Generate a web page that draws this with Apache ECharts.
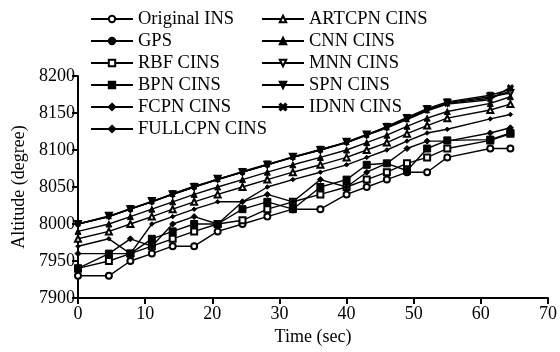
<!DOCTYPE html>
<html>
<head>
<meta charset="utf-8">
<script src="https://cdn.jsdelivr.net/npm/echarts@6/dist/echarts.min.js"></script>
<style>html,body{margin:0;padding:0;background:#fff}#c{width:560px;height:352px}</style>
</head>
<body>
<div id="c"></div>
<script>
var times = [0, 4.6, 7.8, 11, 14.1, 17.3, 20.8, 24.5, 28.2, 32, 36.1, 40, 43, 46, 49, 52, 55, 61.4, 64.4];

var originalINS = [7930, 7930, 7950, 7960, 7970, 7970, 7990, 8000, 8010, 8020, 8020, 8040, 8050, 8060, 8070, 8070, 8090, 8102, 8102];
var gps      = [8000, 8010, 8020, 8030, 8040, 8050, 8060, 8070, 8080, 8090, 8100, 8110, 8120, 8130, 8142, 8154, 8163, 8170, 8180];
var rbfCINS  = [7940, 7950, 7960, 7970, 7980, 7990, 8000, 8005, 8020, 8030, 8040, 8050, 8060, 8070, 8082, 8090, 8102, 8113, 8122];
var bpnCINS  = [7940, 7960, 7960, 7980, 7990, 8000, 8000, 8020, 8030, 8020, 8050, 8060, 8080, 8082, 8072, 8102, 8113, 8114, 8123];
var fcpnCINS = [7960, 7960, 7980, 7970, 8000, 8010, 8000, 8030, 8040, 8030, 8060, 8050, 8070, 8082, 8102, 8112, 8112, 8123, 8130];
var fullcpnCINS = [7970, 7980, 7960, 8000, 8010, 8020, 8030, 8030, 8050, 8060, 8070, 8080, 8090, 8100, 8112, 8123, 8128, 8142, 8148];
var artcpnCINS = [7980, 7990, 8000, 8010, 8020, 8030, 8040, 8050, 8060, 8070, 8080, 8090, 8100, 8110, 8122, 8133, 8143, 8154, 8162];
var cnnCINS  = [7990, 8000, 8010, 8020, 8030, 8040, 8050, 8060, 8070, 8080, 8090, 8100, 8110, 8120, 8132, 8143, 8152, 8163, 8172];
var mnnCINS  = [8000, 8011, 8020, 8031, 8040, 8050, 8061, 8070, 8080, 8091, 8100, 8111, 8121, 8131, 8143, 8155, 8164, 8172, 8177];
var spnCINS  = [8000, 8010, 8021, 8030, 8041, 8051, 8060, 8071, 8081, 8090, 8101, 8110, 8120, 8132, 8144, 8156, 8165, 8174, 8182];
var idnnCINS = [8000, 8010, 8020, 8030, 8040, 8050, 8060, 8070, 8080, 8090, 8100, 8110, 8120, 8130, 8141, 8153, 8162, 8168, 8185];

var xTicks = [0, 10, 20, 30, 40, 50, 60, 70];
var yTicks = [7900, 7950, 8000, 8050, 8100, 8150, 8200];

var names = ['Original INS', 'GPS', 'RBF CINS', 'BPN CINS', 'FCPN CINS', 'FULLCPN CINS',
             'ARTCPN CINS', 'CNN CINS', 'MNN CINS', 'SPN CINS', 'IDNN CINS'];
var values = [originalINS, gps, rbfCINS, bpnCINS, fcpnCINS, fullcpnCINS,
              artcpnCINS, cnnCINS, mnnCINS, spnCINS, idnnCINS];

var xPath = 'path://M0,1.5L1.5,0L5,3.5L8.5,0L10,1.5L6.5,5L10,8.5L8.5,10L5,6.5L1.5,10L0,8.5L3.5,5Z';
var symbols = [
  {s: 'emptyCircle', size: 6},
  {s: 'circle', size: 4.5},
  {s: 'emptyRect', size: 6},
  {s: 'rect', size: 7},
  {s: 'diamond', size: 6},
  {s: 'diamond', size: 4.5},
  {s: 'emptyTriangle', size: 6},
  {s: 'triangle', size: 6},
  {s: 'emptyTriangle', size: 6, rot: 180},
  {s: 'triangle', size: 6, rot: 180},
  {s: xPath, size: 5}
];

var series = names.map(function (n, i) {
  return {
    name: n,
    type: 'line',
    data: times.map(function (t, j) { return [t, values[i][j]]; }),
    symbol: symbols[i].s,
    symbolSize: symbols[i].size,
    symbolRotate: symbols[i].rot || 0,
    showAllSymbol: true,
    lineStyle: {color: '#000', width: 1.4},
    itemStyle: {color: '#000', borderColor: '#000', borderWidth: 1},
    emphasis: {disabled: true},
    animation: false,
    z: 2
  };
});

var font = 'Liberation Serif';
var legendText = {fontFamily: font, fontSize: 18.5, color: '#000', lineHeight: 22, fontWeight: 'normal'};
var chart = echarts.init(document.getElementById('c'), null, {renderer: 'canvas'});
chart.setOption({
  backgroundColor: '#fff',
  animation: false,
  color: ['#000'],
  textStyle: {fontFamily: font, color: '#000', fontWeight: 'normal'},
  grid: {left: 78, right: 12, top: 76, bottom: 54, containLabel: false},
  legend: [
    {
      data: names.slice(0, 6), orient: 'vertical', left: 85, top: 3,
      itemWidth: 42, itemHeight: 8, itemGap: 0,
      textStyle: legendText,
      selectedMode: false
    },
    {
      data: names.slice(6), orient: 'vertical', left: 256, top: 3,
      itemWidth: 42, itemHeight: 8, itemGap: 0,
      textStyle: legendText,
      selectedMode: false
    }
  ],
  xAxis: {
    type: 'value', min: xTicks[0], max: xTicks[xTicks.length - 1], interval: 10,
    name: 'Time (sec)', nameLocation: 'middle', nameGap: 26,
    nameTextStyle: {fontFamily: font, fontSize: 18, color: '#000', fontWeight: 'normal'},
    axisLine: {lineStyle: {color: '#000', width: 2}},
    axisTick: {length: 6, lineStyle: {color: '#000', width: 2}},
    axisLabel: {fontFamily: font, fontSize: 18, color: '#000', margin: 7,
      formatter: function (v) { return String(v); }},
    splitLine: {show: false}
  },
  yAxis: {
    type: 'value', min: yTicks[0], max: yTicks[yTicks.length - 1], interval: 50,
    name: 'Altitude (degree)', nameLocation: 'middle', nameGap: 47,
    nameTextStyle: {fontFamily: font, fontSize: 18, color: '#000', fontWeight: 'normal'},
    axisLine: {show: true, lineStyle: {color: '#000', width: 2}},
    axisTick: {show: true, length: 6, lineStyle: {color: '#000', width: 2}},
    axisLabel: {fontFamily: font, fontSize: 18, color: '#000', margin: 3,
      formatter: function (v) { return String(v); }},
    splitLine: {show: false}
  },
  series: series
});
</script>
</body>
</html>
